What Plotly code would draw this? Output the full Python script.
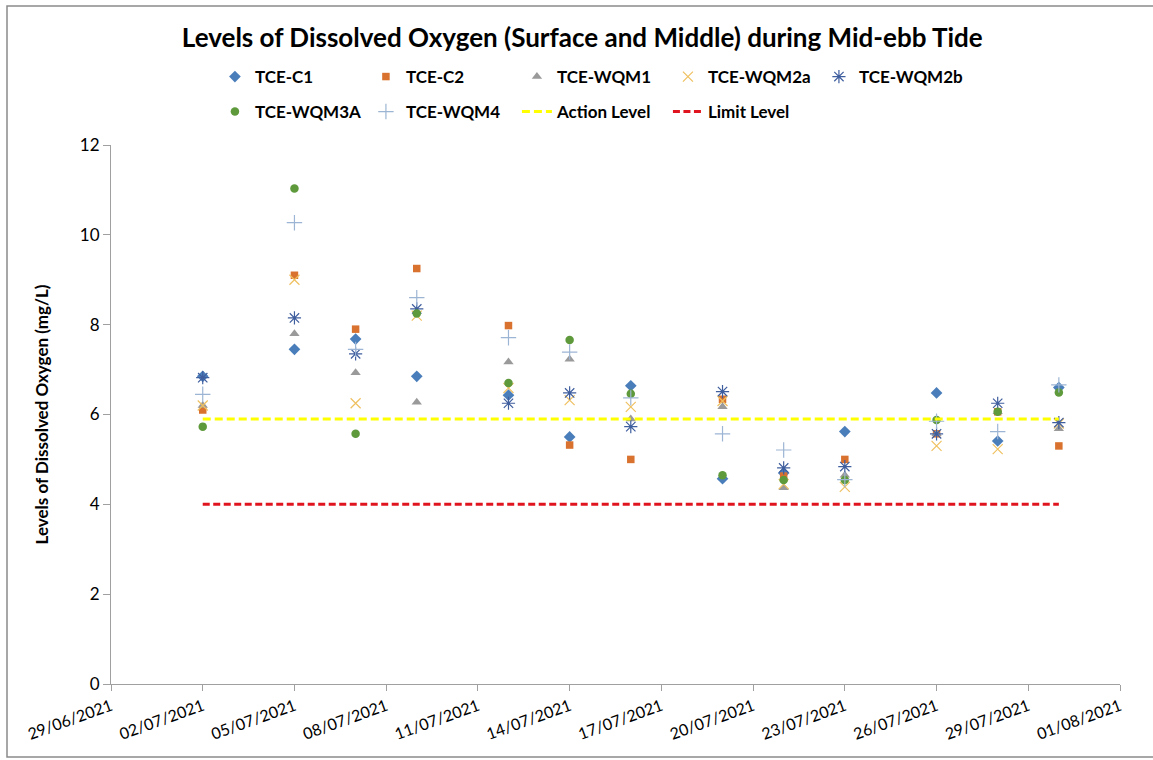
import plotly.graph_objects as go

dates = ["2021-07-02", "2021-07-05", "2021-07-07", "2021-07-09", "2021-07-12", "2021-07-14",
         "2021-07-16", "2021-07-19", "2021-07-21", "2021-07-23", "2021-07-26", "2021-07-28", "2021-07-30"]

tce_c1    = [6.85, 7.45, 7.68, 6.85, 6.43, 5.50, 6.64, 4.57, 4.70, 5.62, 6.48, 5.41, 6.60]
tce_c2    = [6.10, 9.10, 7.90, 9.25, 7.98, 5.32, 5.00, 6.34, 4.63, 5.00, 5.57, 6.06, 5.30]
tce_wqm1  = [6.20, 7.80, 6.93, 6.27, 7.17, 7.23, 5.90, 6.17, 4.37, 4.65, 5.57, 6.06, 5.68]
tce_wqm2a = [6.20, 9.00, 6.25, 8.20, 6.59, 6.32, 6.17, 6.30, 4.45, 4.39, 5.30, 5.23, 5.80]
tce_wqm2b = [6.82, 8.15, 7.35, 8.35, 6.25, 6.48, 5.73, 6.51, 4.81, 4.84, 5.57, 6.25, 5.82]
tce_wqm3a = [5.73, 11.03, 5.57, 8.25, 6.70, 7.66, 6.46, 4.65, 4.54, 4.54, 5.88, 6.06, 6.49]
tce_wqm4  = [6.45, 10.27, 7.45, 8.60, 7.71, 7.39, 6.37, 5.57, 5.21, 4.55, 5.85, 5.62, 6.66]

action_level = 5.9
limit_level = 4.0
level_dates = [dates[0], dates[-1]]

tick_dates = ["2021-06-29", "2021-07-02", "2021-07-05", "2021-07-08", "2021-07-11", "2021-07-14",
              "2021-07-17", "2021-07-20", "2021-07-23", "2021-07-26", "2021-07-29", "2021-08-01"]
tick_text = ["29/06/2021", "02/07/2021", "05/07/2021", "08/07/2021", "11/07/2021", "14/07/2021",
             "17/07/2021", "20/07/2021", "23/07/2021", "26/07/2021", "29/07/2021", "01/08/2021"]

FONT = "Lato"

series = [
    ("TCE-C1", tce_c1, dict(symbol="diamond", size=9, color="#4A7EBB"), "legend"),
    ("TCE-C2", tce_c2, dict(symbol="square", size=7.5, color="#D9722E"), "legend"),
    ("TCE-WQM1", tce_wqm1, dict(symbol="triangle-up", size=9, color="#9A9A9A"), "legend"),
    ("TCE-WQM2a", tce_wqm2a, dict(symbol="x-thin-open", size=10, color="#EFC060", line=dict(width=1.2, color="#EFC060")), "legend"),
    ("TCE-WQM2b", tce_wqm2b, dict(symbol="asterisk-open", size=11, color="#3F5E9E", line=dict(width=1.2, color="#3F5E9E")), "legend"),
    ("TCE-WQM3A", tce_wqm3a, dict(symbol="circle", size=8.5, color="#5E9A3C"), "legend2"),
    ("TCE-WQM4", tce_wqm4, dict(symbol="cross-thin-open", size=11, color="#9DB5D4", line=dict(width=1.2, color="#9DB5D4")), "legend2"),
]

fig = go.Figure()
for name, vals, mk, lg in series:
    fig.add_trace(go.Scatter(x=dates, y=vals, mode="markers", name=name, marker=mk, legend=lg))

fig.add_trace(go.Scatter(x=level_dates, y=[action_level, action_level], mode="lines", name="Action Level",
                         line=dict(color="#FFFF00", width=3, dash="8px,4px"), legend="legend2"))
fig.add_trace(go.Scatter(x=level_dates, y=[limit_level, limit_level], mode="lines", name="Limit Level",
                         line=dict(color="#E0141E", width=3, dash="7px,3.5px"), legend="legend2"))

legend_font = dict(family=FONT, size=17, color="#000000", weight="bold")
legend_common = dict(orientation="h", xanchor="left", yanchor="middle", entrywidth=106,
                     entrywidthmode="pixels", traceorder="normal", font=legend_font,
                     bgcolor="rgba(0,0,0,0)", itemwidth=30)

fig.update_layout(
    width=1153, height=760,
    margin=dict(l=111, r=33, t=145, b=76, autoexpand=False),
    paper_bgcolor="white", plot_bgcolor="white",
    font=dict(family=FONT, color="#000000", size=14),
    title=dict(text="<b>Levels of Dissolved Oxygen (Surface and Middle) during Mid-ebb Tide</b>",
               x=0.505, xanchor="center", y=0.95, yanchor="middle",
               font=dict(family=FONT, size=26, color="#000000")),
    legend=dict(x=0.103, y=(684 - 77) / 539, **legend_common),
    legend2=dict(x=0.103, y=(684 - 112) / 539, **legend_common),
    showlegend=True,
)

fig.update_xaxes(
    type="date", range=["2021-06-29", "2021-08-01"],
    tickmode="array", tickvals=tick_dates, ticktext=tick_text, tickangle=-20,
    showgrid=False, zeroline=False, showline=True, linecolor="#A0A0A0", linewidth=1,
    ticks="outside", ticklen=6, tickcolor="#A0A0A0",
    tickfont=dict(family=FONT, size=16, color="#000000"),
)
fig.update_yaxes(
    range=[0, 12], tickmode="array", tickvals=[0, 2, 4, 6, 8, 10, 12],
    showgrid=False, zeroline=False, showline=True, linecolor="#A0A0A0", linewidth=1,
    ticks="outside", ticklen=7, tickcolor="#A0A0A0",
    tickfont=dict(family=FONT, size=17, color="#000000"),
    title=dict(text="<b>Levels of Dissolved Oxygen (mg/L)</b>", font=dict(family=FONT, size=17, color="#000000"),
               standoff=26),
)

# outer chart border
fig.add_shape(type="rect", xref="paper", yref="paper",
              x0=(7 - 111) / 1009, x1=(1155 - 111) / 1009,
              y0=(684 - 757) / 539, y1=(684 - 6) / 539,
              line=dict(color="#8A8A8A", width=1.5), fillcolor="rgba(0,0,0,0)", layer="below")

fig.write_html("out.html", config={"displayModeBar": False},
               post_script="document.body.style.margin='0';document.body.style.padding='0';")
